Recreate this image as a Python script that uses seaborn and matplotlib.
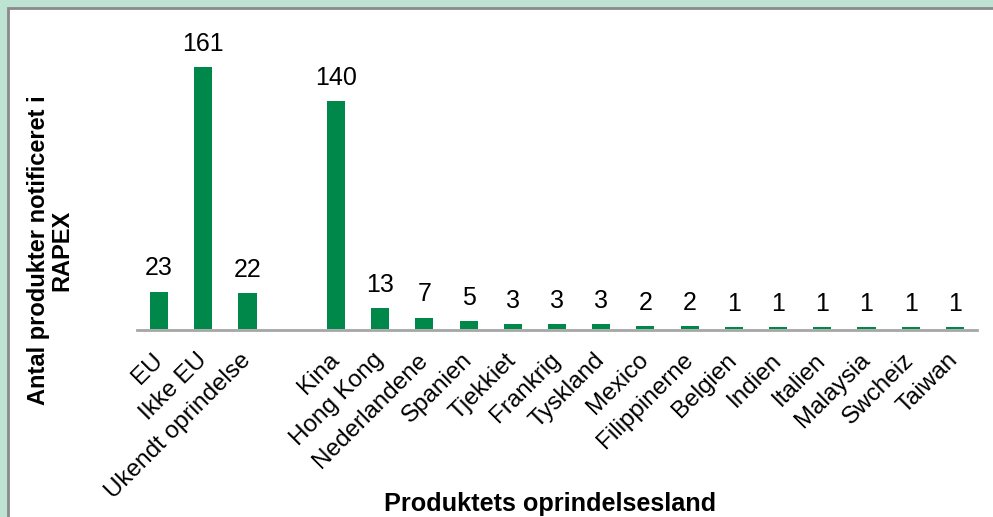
import matplotlib
matplotlib.use("Agg")
import matplotlib.pyplot as plt
import seaborn as sns
import pandas as pd
from matplotlib.patches import Rectangle

categories = ["EU", "Ikke EU", "Ukendt oprindelse", "Kina", "Hong Kong", "Nederlandene",
              "Spanien", "Tjekkiet", "Frankrig", "Tyskland", "Mexico", "Filippinerne",
              "Belgien", "Indien", "Italien", "Malaysia", "Swcheiz", "Taiwan"]
values = [23, 161, 22, 140, 13, 7, 5, 3, 3, 3, 2, 2, 1, 1, 1, 1, 1, 1]
order = categories[:3] + [" "] + categories[3:]

x_title = "Produktets oprindelsesland"
y_title = "Antal produkter notificeret i\nRAPEX"

sns.set_theme(style="white")
plt.rcParams['font.family'] = ['Liberation Sans', 'DejaVu Sans']

fig = plt.figure(figsize=(9.93, 5.17), dpi=100)
fig.patch.set_facecolor("#BEE3D3")
fig.patches.append(Rectangle((8/993, -0.1), 1.2, 1 - 8/517 + 0.1, transform=fig.transFigure,
                             facecolor="white", edgecolor="#8A8A8A", linewidth=2, zorder=-10))

ax = fig.add_axes([137/993, 188/517, 840/993, 293/517])
ax.set_facecolor("none")
df = pd.DataFrame({"cat": categories, "val": values})
sns.barplot(data=df, x="cat", y="val", order=order, color="#00884A", width=0.41,
            saturation=1, ax=ax, errorbar=None, linewidth=0)
for c in ax.containers:
    ax.bar_label(c, labels=[f"{v:g}" for v in c.datavalues], padding=8, fontsize=18, color="black")

ax.set_ylim(0, 180)
ax.set_xlim(-0.5, len(order) - 0.5)
ax.set_yticks([])
ax.set_xlabel("")
ax.set_ylabel("")
for s in ["top", "right", "left"]:
    ax.spines[s].set_visible(False)
ax.spines["bottom"].set_color("#A6A6A6")
ax.spines["bottom"].set_linewidth(2)
ax.spines["bottom"].set_position(("outward", 1))
ax.tick_params(axis="x", length=0, pad=19)
ax.set_xticks(range(len(order)))
ax.set_xticklabels(order, rotation=45, ha="right", va="center", rotation_mode="anchor",
                   fontsize=17.5, color="black")

fig.text(550/993, 1 - 504/517, x_title, ha="center", va="center", fontsize=18.2,
         fontweight="bold", color="black")
fig.text(50/993, 1 - 250/517, y_title, ha="center", va="center", rotation=90, fontsize=17,
         fontweight="bold", color="black", multialignment="center", linespacing=1.0)

fig.savefig("out.png", dpi=100)
